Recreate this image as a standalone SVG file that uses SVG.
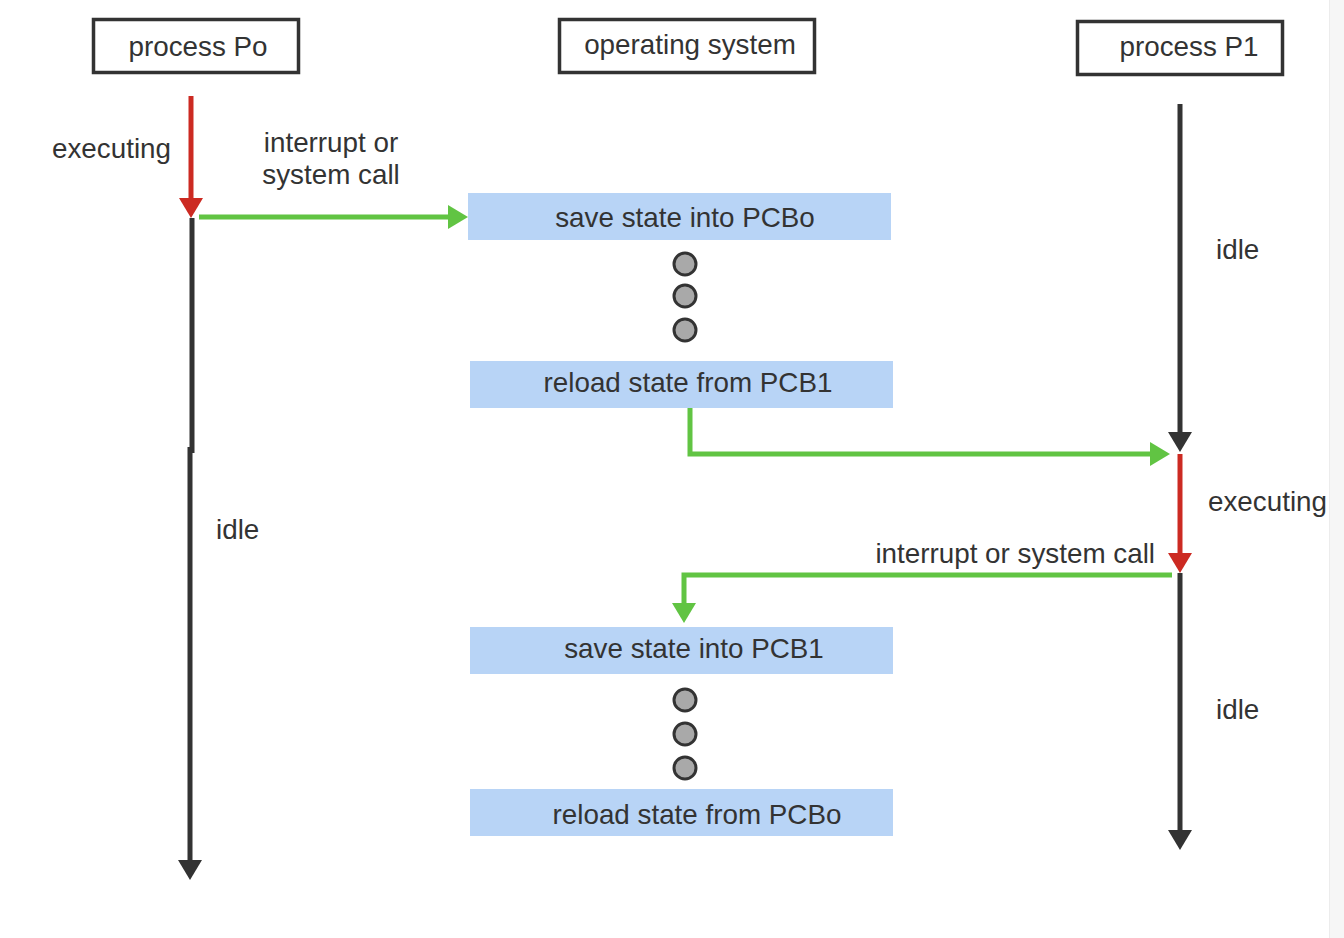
<svg xmlns="http://www.w3.org/2000/svg" width="1344" height="938" viewBox="0 0 1344 938">
<style>
text{font-family:"Liberation Sans",Arial,sans-serif;font-size:27.8px;fill:#333}
.hdr{fill:#fff;stroke:#333;stroke-width:3.5}
.op{fill:#b8d4f6}
.dot{fill:#a9a9a9;stroke:#333;stroke-width:3}
.dk{stroke:#333;stroke-width:5;fill:none}
.rd{stroke:#cc2a22;stroke-width:5;fill:none}
.gr{stroke:#61c443;stroke-width:5;fill:none}
</style>
<defs>
<marker id="aDk" markerUnits="userSpaceOnUse" markerWidth="20" markerHeight="24" refX="0" refY="12" orient="auto" overflow="visible"><path d="M0,0 L20,12 L0,24 z" fill="#333"/></marker>
<marker id="aRd" markerUnits="userSpaceOnUse" markerWidth="20" markerHeight="24" refX="0" refY="12" orient="auto" overflow="visible"><path d="M0,0 L20,12 L0,24 z" fill="#cc2a22"/></marker>
<marker id="aGr" markerUnits="userSpaceOnUse" markerWidth="20" markerHeight="24" refX="0" refY="12" orient="auto" overflow="visible"><path d="M0,0 L20,12 L0,24 z" fill="#61c443"/></marker>
</defs>
<rect x="0" y="0" width="1344" height="938" fill="#fff"/>
<rect x="1329" y="0" width="15" height="938" fill="#f6f6f6"/>
<line x1="1329.5" y1="0" x2="1329.5" y2="938" stroke="#ececec" stroke-width="1"/>

<g id="p0"><rect class="hdr" x="93.5" y="19.5" width="205" height="53"/><text x="198" y="56" text-anchor="middle">process Po</text></g>
<g id="os"><rect class="hdr" x="559.5" y="19.5" width="255" height="53"/><text x="690" y="54" text-anchor="middle">operating system</text></g>
<g id="p1"><rect class="hdr" x="1077.5" y="21.5" width="205" height="53"/><text x="1189" y="56" text-anchor="middle">process P1</text></g>

<g id="save0"><rect class="op" x="468" y="193" width="423" height="47"/><text x="685" y="227" text-anchor="middle">save state into PCBo</text></g>
<g id="dots1"><circle class="dot" cx="685" cy="264" r="11"/><circle class="dot" cx="685" cy="296" r="11"/><circle class="dot" cx="685" cy="330" r="11"/></g>
<g id="reload1"><rect class="op" x="470" y="361" width="423" height="47"/><text x="688" y="392" text-anchor="middle">reload state from PCB1</text></g>
<g id="save1"><rect class="op" x="470" y="627" width="423" height="47"/><text x="694" y="658" text-anchor="middle">save state into PCB1</text></g>
<g id="dots2"><circle class="dot" cx="685" cy="700" r="11"/><circle class="dot" cx="685" cy="734" r="11"/><circle class="dot" cx="685" cy="768" r="11"/></g>
<g id="reload0"><rect class="op" x="470" y="789" width="423" height="47"/><text x="697" y="824" text-anchor="middle">reload state from PCBo</text></g>

<g id="connectors">
<line class="rd" x1="191" y1="96" x2="191" y2="198" marker-end="url(#aRd)"/>
<line class="dk" x1="192" y1="218" x2="192" y2="453"/>
<line class="dk" x1="190" y1="447" x2="190" y2="860" marker-end="url(#aDk)"/>
<line class="gr" x1="199" y1="217" x2="448" y2="217" marker-end="url(#aGr)"/>
<path class="gr" d="M690,408 V454 H1150" marker-end="url(#aGr)"/>
<line class="dk" x1="1180" y1="104" x2="1180" y2="432" marker-end="url(#aDk)"/>
<line class="rd" x1="1180" y1="454" x2="1180" y2="553" marker-end="url(#aRd)"/>
<line class="dk" x1="1180" y1="573" x2="1180" y2="830" marker-end="url(#aDk)"/>
<path class="gr" d="M1172,575 H684 V603" marker-end="url(#aGr)"/>
</g>

<g id="labels">
<text x="52" y="158">executing</text>
<text x="331" y="152" text-anchor="middle">interrupt or</text>
<text x="331" y="184" text-anchor="middle">system call</text>
<text x="216" y="539">idle</text>
<text x="1216" y="259">idle</text>
<text x="1208" y="511">executing</text>
<text x="1155" y="563" text-anchor="end">interrupt or system call</text>
<text x="1216" y="719">idle</text>
</g>
</svg>
